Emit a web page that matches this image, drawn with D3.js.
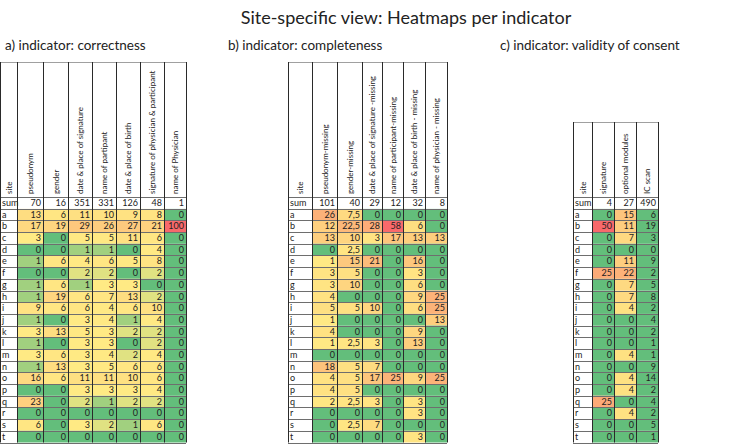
<!DOCTYPE html>
<html>
<head>
<meta charset="utf-8">
<script src="https://cdn.jsdelivr.net/npm/d3@7"></script>
<style>
body { margin: 0; background: #fff; }
svg { font-family: Lato, "Open Sans", sans-serif; }
</style>
</head>
<body>
<div id="chart"></div>
<script>
// sites (rows) shared by the three heatmaps
const sites = ["a","b","c","d","e","f","g","h","i","j","k","l","m","n","o","p","q","r","s","t"];

// a) correctness
const corrColumns = ["pseudonym","gender","date & place of signature","name of partipant",
  "date & place of birth","signature of physician & participant","name of Physician"];
const corrSum = [70,16,351,331,126,48,1];
const corrRows = [
  [13,6,11,10,9,8,0],
  [17,19,29,26,27,21,100],
  [3,0,5,5,11,6,0],
  [0,0,1,1,0,4,0],
  [1,6,4,6,5,8,0],
  [0,0,2,2,0,2,0],
  [1,6,1,3,3,0,0],
  [1,19,6,7,13,2,0],
  [9,6,6,4,6,10,0],
  [1,0,3,4,1,4,0],
  [3,13,5,3,2,2,0],
  [1,0,3,3,0,2,0],
  [3,6,3,4,2,4,0],
  [1,13,3,5,6,6,0],
  [16,6,11,11,10,6,0],
  [0,0,3,3,3,4,0],
  [23,0,2,1,2,2,0],
  [0,0,0,0,0,0,0],
  [6,0,3,2,1,6,0],
  [0,0,0,0,0,0,0]
];

// b) completeness
const compColumns = ["pseudonym-missing","gender-missing","date & place of signature -missing",
  "name of participant-missing","date & place of birth - missing","name of physician - missing"];
const compSum = [101,40,29,12,32,8];
const compRows = [
  [26,7.5,0,0,0,0],
  [12,22.5,28,58,6,0],
  [13,10,3,17,13,13],
  [0,2.5,0,0,0,0],
  [1,15,21,0,16,0],
  [3,5,0,0,3,0],
  [3,10,0,0,6,0],
  [4,0,0,0,9,25],
  [5,5,10,0,6,25],
  [1,0,0,0,0,13],
  [4,0,0,0,9,0],
  [1,2.5,3,0,13,0],
  [0,0,0,0,0,0],
  [18,5,7,0,0,0],
  [4,5,17,25,9,25],
  [4,5,0,0,0,0],
  [2,2.5,3,0,3,0],
  [0,0,0,0,3,0],
  [0,2.5,7,0,0,0],
  [0,0,0,0,3,0]
];

// c) validity of consent
const consColumns = ["signature","optional modules","IC scan"];
const consSum = [4,27,490];
const consRows = [
  [0,15,6],[50,11,19],[0,7,3],[0,0,0],[0,11,9],
  [25,22,2],[0,7,5],[0,7,8],[0,4,2],[0,0,4],
  [0,0,2],[0,0,1],[0,4,1],[0,0,9],[0,4,14],
  [0,4,2],[25,0,4],[0,4,2],[0,0,5],[0,0,1]
];

const width = 750, height = 445;
const GREEN = "#63BE7B", YELLOW = "#FFEB84", RED = "#F8696B";

const svg = d3.select("#chart").append("svg")
  .attr("width", width)
  .attr("height", height);

svg.append("text")
  .attr("x", 406).attr("y", 24)
  .attr("text-anchor", "middle")
  .style("font-size", "18px")
  .style("fill", "#222")
  .text("Site-specific view: Heatmaps per indicator");

// 3-colour scale like the spreadsheet: min green, median yellow, max red
const heat = (vals) => {
  const s = vals.slice().sort(d3.ascending);
  const lo = s[0], mid = d3.quantile(s, 0.5), hi = s[s.length - 1];
  return v => {
    if (v <= mid) {
      const t = mid === lo ? 0 : (v - lo) / (mid - lo);
      return d3.interpolateRgb(GREEN, YELLOW)(t);
    }
    return d3.interpolateRgb(YELLOW, RED)((v - mid) / (hi - mid));
  };
};

const fmt = v => String(v).replace(".", ",");

const drawTable = (cfg) => {
  const g = svg.append("g").attr("transform", `translate(${cfg.left},0)`);

  svg.append("text")
    .attr("x", cfg.titleX).attr("y", 50)
    .style("font-size", "13.5px")
    .style("fill", "#222")
    .text(cfg.title);

  const cols = ["site"].concat(cfg.columns);
  const widths = [cfg.siteWidth].concat(cfg.columns.map((c, i) => cfg.widths[i]));
  const edges = [0].concat(Array.from(d3.cumsum(widths)));
  const x = d3.scaleOrdinal().domain(cols).range(edges);
  const w = d3.scaleOrdinal().domain(cols).range(widths);
  const right = edges[edges.length - 1];

  const rowKeys = ["sum"].concat(sites);
  const y = d3.scaleBand().domain(rowKeys).range([cfg.headerBottom, 442.5]);

  // colour scale from the body values of the coloured columns
  const coloured = cfg.columns.map((c, i) => cfg.fixed.indexOf(c) < 0);
  const pool = [];
  cfg.rows.forEach(r => r.forEach((v, i) => { if (coloured[i]) pool.push(v); }));
  const color = heat(pool);

  // cells
  const cells = [];
  sites.forEach((s, ri) => {
    cfg.columns.forEach((c, ci) => {
      const v = cfg.rows[ri][ci];
      cells.push({row: s, col: c, v: v, fill: coloured[ci] ? color(v) : GREEN});
    });
  });
  cfg.columns.forEach((c, ci) => cells.push({row: "sum", col: c, v: cfg.sum[ci], fill: "#fff"}));

  g.selectAll("rect.cell")
    .data(cells)
    .enter().append("rect")
    .attr("class", "cell")
    .attr("x", d => x(d.col))
    .attr("y", d => y(d.row))
    .attr("width", d => w(d.col))
    .attr("height", y.bandwidth())
    .style("fill", d => d.fill);

  g.selectAll("text.val")
    .data(cells)
    .enter().append("text")
    .attr("class", "val")
    .attr("x", d => x(d.col) + w(d.col) - 2)
    .attr("y", d => y(d.row) + y.bandwidth() / 2 + 3.2)
    .attr("text-anchor", "end")
    .style("font-size", "9px")
    .style("fill", "#222")
    .text(d => fmt(d.v));

  // site labels
  g.selectAll("text.site")
    .data(rowKeys)
    .enter().append("text")
    .attr("class", "site")
    .attr("x", 2)
    .attr("y", d => y(d) + y.bandwidth() / 2 + 3.2)
    .style("font-size", "9px")
    .style("fill", "#222")
    .text(d => d);

  // rotated headers
  g.selectAll("text.head")
    .data(cols)
    .enter().append("text")
    .attr("class", "head")
    .attr("transform", d => `translate(${x(d) + w(d) / 2 + 3},${cfg.headerBottom - 3}) rotate(-90)`)
    .style("font-size", "8px")
    .style("fill", "#222")
    .text(d => d);

  // grid: horizontal
  const hLines = [cfg.top].concat(rowKeys.map(k => y(k)), [y.range()[1]]);
  g.selectAll("line.h")
    .data(hLines)
    .enter().append("line")
    .attr("x1", 0).attr("x2", right)
    .attr("y1", d => Math.round(d) + 0.5).attr("y2", d => Math.round(d) + 0.5)
    .style("stroke", (d, i) => i === 0 ? "#a0a0a0" : "#6e6e6e")
    .style("stroke-width", 1);

  // grid: vertical
  g.selectAll("line.v")
    .data(edges)
    .enter().append("line")
    .attr("x1", d => Math.round(d) + 0.5).attr("x2", d => Math.round(d) + 0.5)
    .attr("y1", cfg.top).attr("y2", y.range()[1])
    .style("stroke", "#2a2a2a")
    .style("stroke-width", 1);
};

drawTable({
  title: "a) indicator: correctness", titleX: 5,
  left: 0, top: 62, headerBottom: 197,
  columns: corrColumns, sum: corrSum, rows: corrRows,
  siteWidth: 17, widths: [26,25,24,24,24,24,22], fixed: []
});

drawTable({
  title: "b) indicator: completeness", titleX: 228,
  left: 288, top: 62, headerBottom: 197,
  columns: compColumns, sum: compSum, rows: compRows,
  siteWidth: 24, widths: [25,25,20,21,22,22], fixed: []
});

drawTable({
  title: "c) indicator: validity of  consent", titleX: 500,
  left: 573, top: 122, headerBottom: 197,
  columns: consColumns, sum: consSum, rows: consRows,
  siteWidth: 19, widths: [22,22,22], fixed: ["IC scan"]
});
</script>
</body>
</html>
